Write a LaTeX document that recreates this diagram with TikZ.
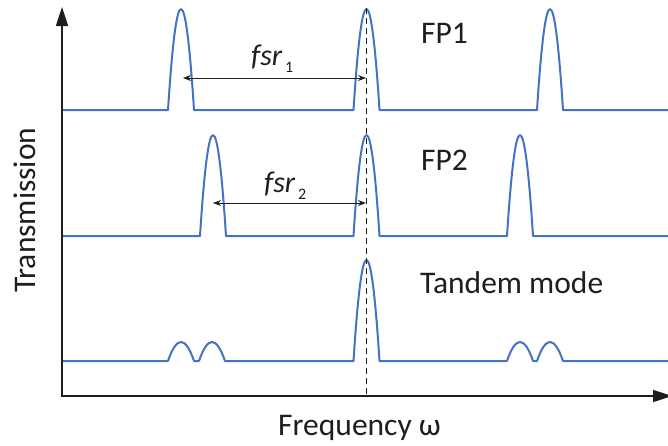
\documentclass[tikz,border=0pt]{standalone}
\usepackage{fontspec}
\setmainfont{Carlito}
\usetikzlibrary{arrows.meta}
\definecolor{traceblue}{RGB}{68,114,196}
\definecolor{inkdark}{RGB}{30,30,30}
% parabolic peak: center, half width, base y, top y
\newcommand\pk[4]{-- ({#1-#2},#3) .. controls ({#1-#2/3},{#3+4/3*(#4-#3)}) and ({#1+#2/3},{#3+4/3*(#4-#3)}) .. ({#1+#2},#3)}
\begin{document}
\begin{tikzpicture}[x=1pt,y=-1pt,
  trace/.style={draw=traceblue,line width=2pt,line join=round},
  axisline/.style={draw=inkdark,line width=1.6pt,{Triangle[length=19pt,width=12pt]}-{Triangle[length=19pt,width=12pt]}},
  guide/.style={draw=inkdark,line width=1.2pt,dash pattern=on 6pt off 4pt},
  fsrarrow/.style={draw=inkdark,line width=1pt,{Stealth[length=8pt,width=6pt]}-{Stealth[length=8pt,width=6pt]}},
  lab/.style={inner sep=0pt,anchor=base west,text=inkdark,font=\fontsize{31.5}{37}\selectfont},
  fsrlab/.style={inner sep=0pt,anchor=base west,text=inkdark}
]
\useasboundingbox (0,0) rectangle (668,445);
% traces
\draw[trace] (62,110) \pk{181}{13}{110}{9} \pk{366.5}{13}{110}{9} \pk{550}{13}{110}{9} -- (668,110);
\draw[trace] (62,236) \pk{213}{13}{236}{135} \pk{366.5}{13}{236}{135} \pk{520}{13}{236}{135} -- (668,236);
\draw[trace] (62,361) \pk{181}{13}{361}{342} \pk{212}{13}{361}{342} \pk{366.5}{13}{361}{260} \pk{520}{13}{361}{342} \pk{550}{13}{361}{342} -- (668,361);
% dashed guide
\coordinate (gtop) at (366.7,8);
\coordinate (gbot) at (366.7,396);
\draw[guide] (gtop) -- (gbot);
% axes
\coordinate (ytop) at (62,7);
\coordinate (O) at (62,396);
\coordinate (xend) at (672,396);
\draw[axisline] (ytop) -- (O) -- (xend);
% fsr arrows
\coordinate (a1l) at (183,78);
\coordinate (a1r) at (366,78);
\draw[fsrarrow] (a1l) -- (a1r);
\coordinate (a2l) at (213,203);
\coordinate (a2r) at (366,203);
\draw[fsrarrow] (a2l) -- (a2r);
% labels
\node[fsrlab] (fsr1) at (251,65) {{\fontsize{30}{36}\selectfont\itshape fsr}\kern3pt\raisebox{-7pt}{\fontsize{16}{19}\selectfont 1}};
\node[fsrlab] (fsr2) at (264,192) {{\fontsize{30}{36}\selectfont\itshape fsr}\kern3pt\raisebox{-7pt}{\fontsize{16}{19}\selectfont 2}};
\node[lab] (fp1) at (421,43) {FP1};
\node[lab] (fp2) at (421,170) {FP2};
\node[lab] (tandem) at (420,293) {Tandem mode};
\node[lab] (xlab) at (278,435) {Frequency ω};
\node[lab,rotate=90] (ylab) at (35,293) {Transmission};
\end{tikzpicture}
\end{document}
